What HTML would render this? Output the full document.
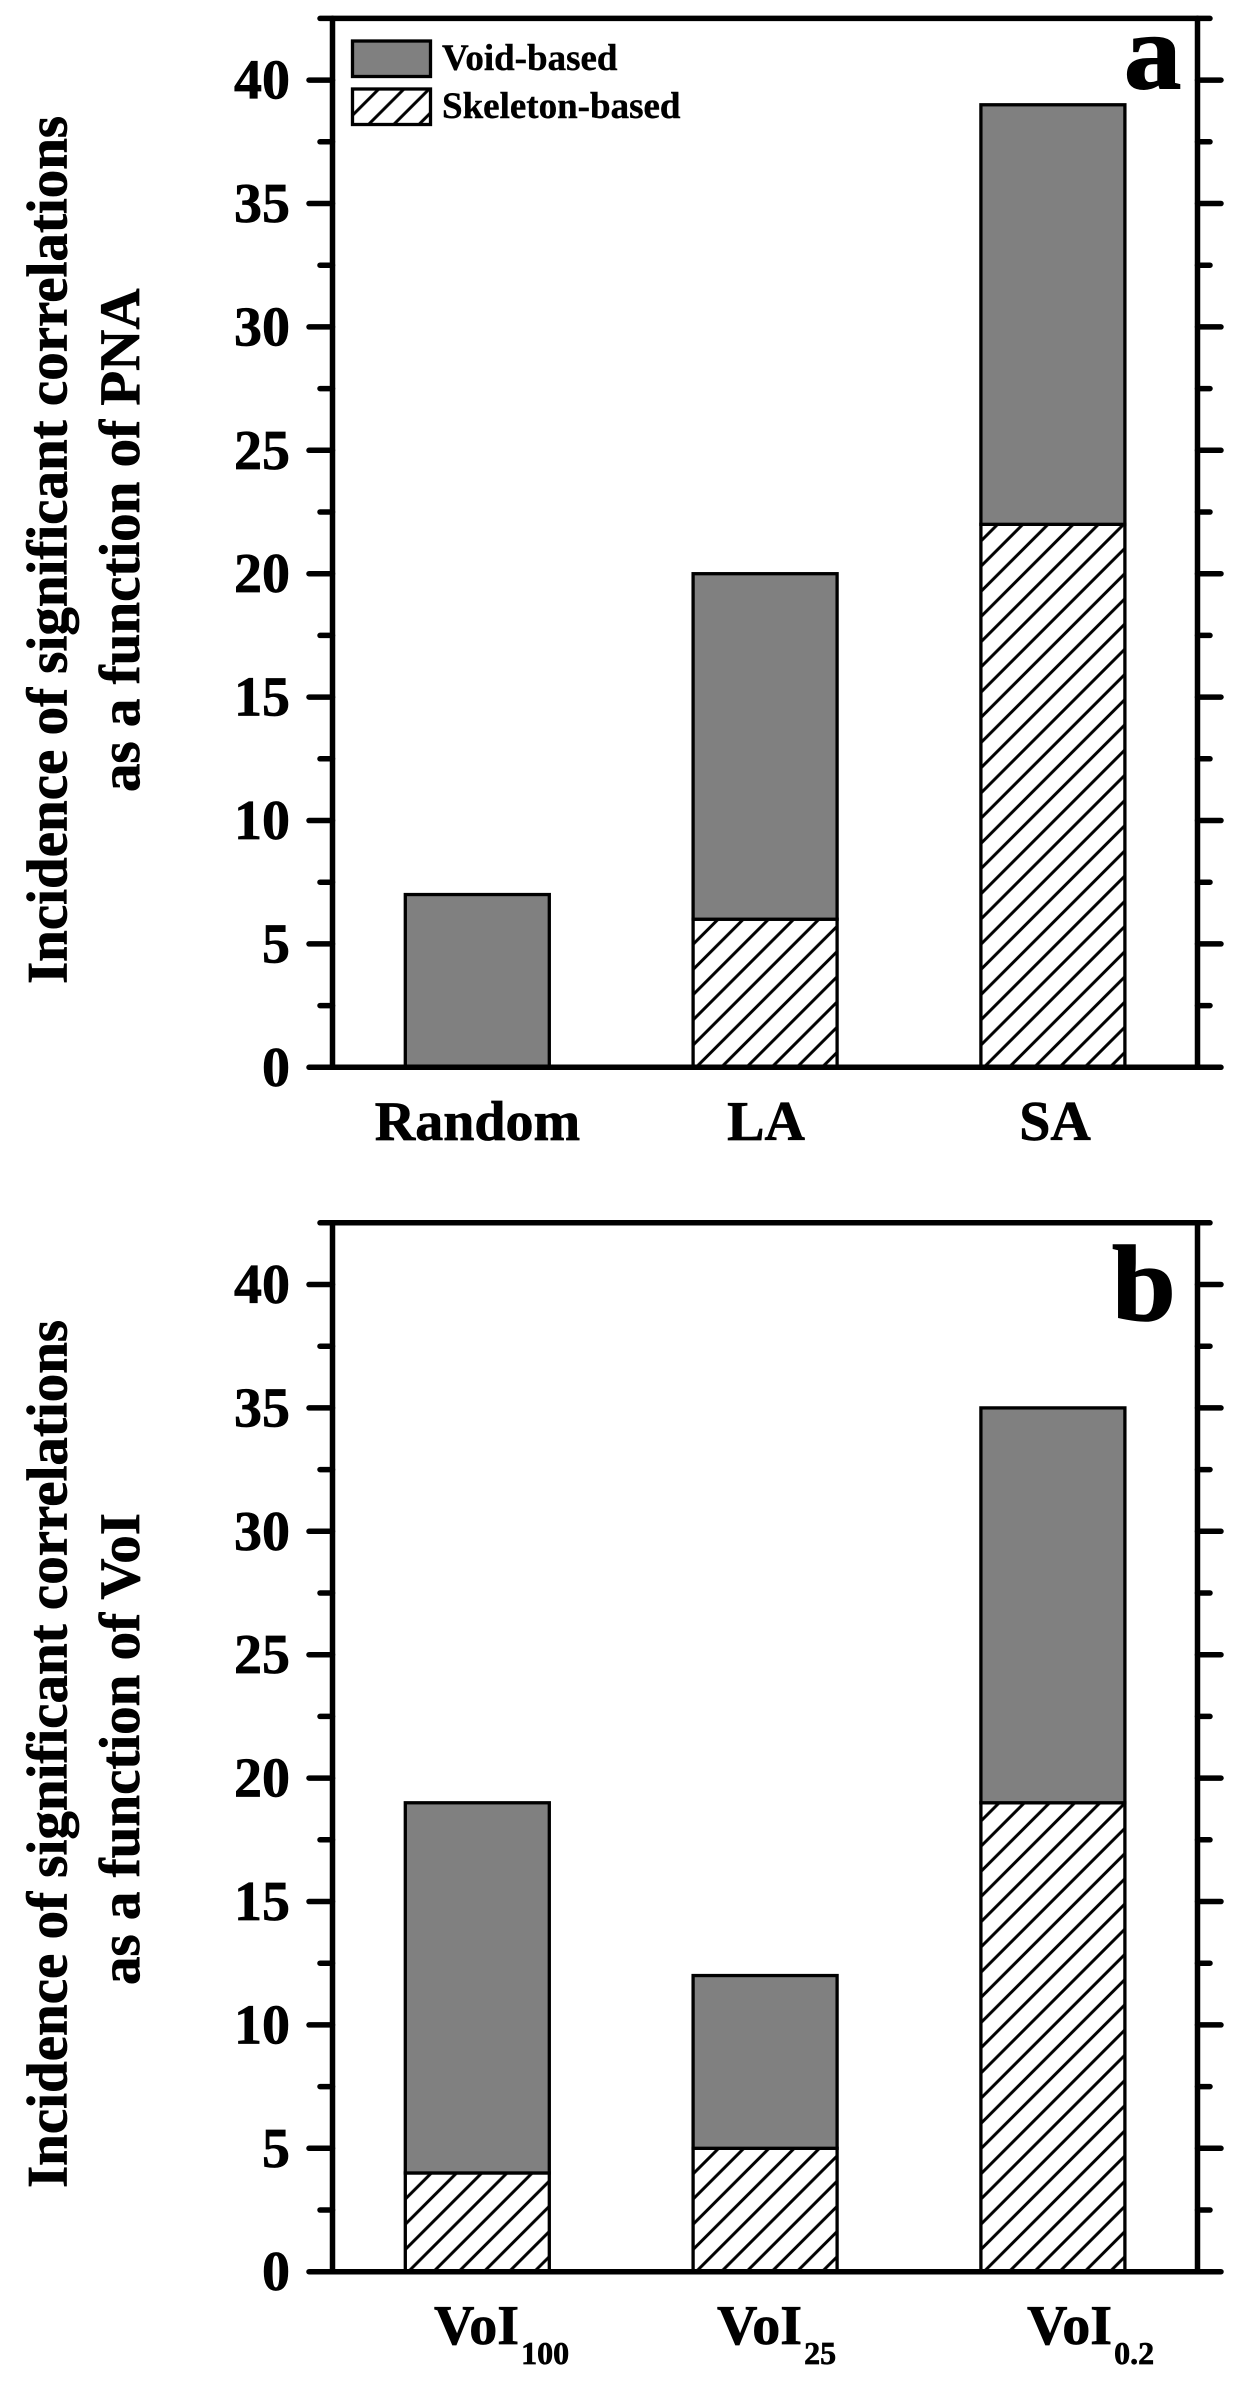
<!DOCTYPE html>
<html lang="en">
<head>
<meta charset="utf-8">
<title>Incidence of significant correlations</title>
<style>
html,body{margin:0;padding:0;background:#fff;}
svg{display:block;}
text{font-family:"Liberation Serif",serif;font-weight:bold;fill:#000;stroke:#000;stroke-width:0.7px;}
.tick-label{font-size:56px;text-anchor:end;}
.cat{font-size:56px;}
.title{font-size:57px;}
.leg{font-size:37px;stroke-width:0.4px;}
.letter{font-size:108px;stroke-width:1.5px;}
</style>
</head>
<body>
<svg id="chart" xmlns="http://www.w3.org/2000/svg" width="1256" height="2384" viewBox="0 0 1256 2384">
  <rect x="0" y="0" width="1256" height="2384" fill="#fff"/>
  <defs id="defs">
    <pattern id="hatch-legend" patternUnits="userSpaceOnUse" width="25.2" height="25.2" patternTransform="translate(368,125)">
      <path d="M-5,5 L5,-5 M0,25.2 L25.2,0 M20.2,30.2 L30.2,20.2" stroke="#000" stroke-width="3" fill="none"/>
    </pattern>
  </defs>
  <g id="panel-a"></g>
  <g id="panel-b"></g>

  <text class="title" transform="translate(66.7,984) rotate(-90)">Incidence of significant correlations</text>
  <text class="title" transform="translate(139,792) rotate(-90)">as a function of PNA</text>
  <text class="title" transform="translate(66.7,2188) rotate(-90)">Incidence of significant correlations</text>
  <text class="title" transform="translate(139,1985) rotate(-90)">as a function of VoI</text>

  <text class="letter" transform="translate(1124,88) scale(1.06,1)">a</text>
  <text class="letter" transform="translate(1112,1320) scale(1.06,1)">b</text>

  <g>
    <rect x="352.5" y="41" width="78" height="35.5" fill="#808080" stroke="#000" stroke-width="3.3"/>
    <text class="leg" x="442" y="70">Void-based</text>
    <rect x="352.5" y="89" width="78" height="35.5" fill="url(#hatch-legend)" stroke="#000" stroke-width="3.3"/>
    <text class="leg" x="442" y="118">Skeleton-based</text>
  </g>

  <text class="cat" x="477.5" y="1140" text-anchor="middle">Random</text>
  <text class="cat" x="766" y="1140" text-anchor="middle">LA</text>
  <text class="cat" x="1055" y="1140" text-anchor="middle">SA</text>

  <text class="cat" x="434" y="2344">VoI<tspan font-size="32" dx="2" dy="20">100</tspan></text>
  <text class="cat" x="717" y="2344">VoI<tspan font-size="32" dx="2" dy="20">25</tspan></text>
  <text class="cat" x="1027" y="2344">VoI<tspan font-size="32" dx="2" dy="20">0.2</tspan></text>
</svg>
<script>
var categoriesA = ['Random', 'LA', 'SA'];
var skeletonA = [0, 6, 22];
var voidA = [7, 14, 17];

var categoriesB = ['VoI100', 'VoI25', 'VoI0.2'];
var skeletonB = [4, 5, 19];
var voidB = [15, 7, 16];

var majorTicks = [0, 5, 10, 15, 20, 25, 30, 35, 40];
var minorTicks = [2.5, 7.5, 12.5, 17.5, 22.5, 27.5, 32.5, 37.5, 42.5];
var tickLabels = ['0', '5', '10', '15', '20', '25', '30', '35', '40'];

var NS = 'http://www.w3.org/2000/svg';

function make(tag, parent, props) {
  var el = document.createElementNS(NS, tag);
  for (var k in props) { el.setAttribute(k, props[k]); }
  parent.appendChild(el);
  return el;
}

function drawPanel(panelId, zeroY, categories, skeleton, voids) {
  var group = document.getElementById(panelId);
  var defs = document.getElementById('defs');
  var unit = 24.68;
  var barW = 144;
  function y(v) { return zeroY - v * unit; }
  function xCenter(i) { return 477.3 + 287.8 * i; }

  var axisL = 332.5, axisR = 1197.5;

  categories.forEach(function (cat, i) {
    var left = xCenter(i) - barW / 2;
    var slug = panelId + '-' + cat.toLowerCase().replace(/[^a-z0-9]/g, '');

    if (skeleton[i] > 0) {
      var pid = 'hatch-' + slug;
      var pat = make('pattern', defs, {
        id: pid, patternUnits: 'userSpaceOnUse', width: 25.2, height: 25.2,
        patternTransform: 'translate(' + (left + 5) + ',' + (zeroY - 2) + ')'
      });
      make('path', pat, {
        d: 'M-5,5 L5,-5 M0,25.2 L25.2,0 M20.2,30.2 L30.2,20.2',
        stroke: '#000', 'stroke-width': 3, fill: 'none'
      });
      var skel = make('rect', group, {
        x: left, y: y(skeleton[i]), width: barW, height: y(0) - y(skeleton[i]),
        fill: 'url(#' + pid + ')', stroke: '#000', 'stroke-width': 3.3
      });
      
      
    }
    var top = skeleton[i] + voids[i];
    var vd = make('rect', group, {
      x: left, y: y(top), width: barW, height: y(skeleton[i]) - y(top),
      fill: '#808080', stroke: '#000', 'stroke-width': 3.3
    });
    
    
  });

  function axisLine(x1, y1, x2, y2, w) {
    return make('line', group, {
      x1: x1, y1: y1, x2: x2, y2: y2, stroke: '#000',
      'stroke-width': w, 'stroke-linecap': 'round'
    });
  }

  var topY = y(42.5);

  var left = axisLine(axisL, topY, axisL, y(0), 5.5);
  
  

  var right = axisLine(axisR, topY, axisR, y(0), 5.5);
  
  

  var topLine = axisLine(axisL, topY, axisR, topY, 5.5);
  
  

  var bottom = axisLine(axisL, y(0), axisR, y(0), 5.5);
  
  

  majorTicks.forEach(function (v, i) {
    var tl = axisLine(309, y(v), axisL, y(v), 5.5);
    
    

    var tr = axisLine(axisR, y(v), 1221, y(v), 5.5);
    
    

    var label = make('text', group, { 'class': 'tick-label', x: 290, y: y(v) + 18.5 });
    label.textContent = tickLabels[i];
    
    
  });

  minorTicks.forEach(function (v) {
    var ml = axisLine(320, y(v), axisL, y(v), 5.5);
    
    

    var mr = axisLine(axisR, y(v), 1210, y(v), 5.5);
    
    
  });
}

drawPanel('panel-a', 1067.3, categoriesA, skeletonA, voidA);
drawPanel('panel-b', 2271.7, categoriesB, skeletonB, voidB);
</script>
</body>
</html>
